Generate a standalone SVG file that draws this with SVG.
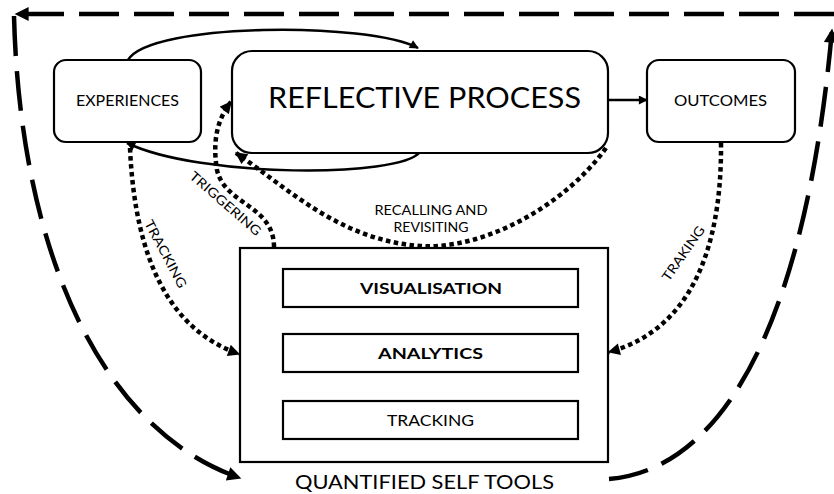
<svg xmlns="http://www.w3.org/2000/svg" width="834" height="494" viewBox="0 0 834 494">
<style>
  text { font-family: Lato, "Open Sans", "Liberation Sans", sans-serif; fill: #000; }
  .box { fill: #fff; stroke: #000; stroke-width: 2.2; }
  .solid { fill: none; stroke: #000; stroke-width: 2.5; }
  .dot { fill: none; stroke: #000; stroke-width: 4.5; stroke-dasharray: 4.5 3.5; }
  .dash { fill: none; stroke: #000; stroke-width: 4.5; stroke-dasharray: 40 15; }
  .lbl { font-size: 13px; }
</style>
<defs>
  <marker id="ahS" viewBox="0 0 10 10" refX="9" refY="5" markerWidth="10" markerHeight="9" markerUnits="userSpaceOnUse" orient="auto">
    <path d="M0,0 L10,5 L0,10 z" fill="#000"/>
  </marker>
  <marker id="ahD" viewBox="0 0 10 10" refX="9" refY="5" markerWidth="13" markerHeight="12" markerUnits="userSpaceOnUse" orient="auto">
    <path d="M0,0 L10,5 L0,10 z" fill="#000"/>
  </marker>
  <marker id="ahL" viewBox="0 0 10 10" refX="9" refY="5" markerWidth="17" markerHeight="14" markerUnits="userSpaceOnUse" orient="auto">
    <path d="M0,0 L10,5 L0,10 z" fill="#000"/>
  </marker>
</defs>

<g id="connectors">
  <!-- outer dashed loop -->
  <path class="dash" d="M609,479 C720,470 805,330 832,30" marker-end="url(#ahL)"/>
  <path class="dash" d="M834,14 L16,14" marker-end="url(#ahL)"/>
  <path class="dash" d="M14,16 C20,250 100,430 240,478" marker-end="url(#ahL)"/>

  <!-- solid loops between experiences and reflective process -->
  <path class="solid" d="M128,60 C150,22 370,22 418,48" marker-end="url(#ahS)"/>
  <path class="solid" d="M420,152 C400,178 200,178 127,143" marker-end="url(#ahS)"/>
  <line class="solid" x1="608" y1="100" x2="647" y2="100" stroke-width="2" marker-end="url(#ahS)"/>

  <!-- dotted arrows -->
  <path class="dot" d="M130,148 C135,260 170,330 239,354" marker-end="url(#ahD)"/>
  <path class="dot" d="M274,247 C274,205 225,205 217,170 C212,140 218,118 231,102" marker-end="url(#ahD)"/>
  <path class="dot" d="M606,148 C565,205 485,250 420,246 C340,240 290,190 236,153" marker-end="url(#ahD)"/>
  <path class="dot" d="M721,143 C722,250 690,330 609,352" marker-end="url(#ahD)"/>

  <!-- internal QS tool arrows -->
  <line x1="430" y1="334" x2="430" y2="308" stroke="#000" stroke-width="4" marker-end="url(#ahD)"/>
  <line x1="430" y1="401" x2="430" y2="373" stroke="#000" stroke-width="4" marker-end="url(#ahD)"/>
  <path d="M283,422 C261,390 261,320 283,289" fill="none" stroke="#000" stroke-width="3" marker-end="url(#ahD)"/>
</g>

<g id="experiences">
  <rect class="box" x="54" y="60" width="147" height="82" rx="12"/>
  <text x="127.5" y="106" font-size="15" text-anchor="middle" textLength="103" lengthAdjust="spacingAndGlyphs">EXPERIENCES</text>
</g>

<g id="reflective-process">
  <rect class="box" x="232" y="51" width="376" height="102" rx="20"/>
  <text x="424.5" y="108" font-size="28" text-anchor="middle" textLength="313" lengthAdjust="spacingAndGlyphs">REFLECTIVE PROCESS</text>
</g>

<g id="outcomes">
  <rect class="box" x="647" y="60" width="148" height="82" rx="12"/>
  <text x="720.5" y="106" font-size="15" text-anchor="middle" textLength="93" lengthAdjust="spacingAndGlyphs">OUTCOMES</text>
</g>

<g id="quantified-self-tools">
  <rect class="box" x="240" y="248" width="368" height="214" rx="0"/>
  <text x="424.5" y="489" font-size="20" text-anchor="middle" textLength="259" lengthAdjust="spacingAndGlyphs">QUANTIFIED SELF TOOLS</text>
</g>

<g id="visualisation">
  <rect class="box" x="283" y="269" width="295" height="38"/>
  <text x="431" y="294" font-size="16" font-weight="bold" text-anchor="middle" textLength="142" lengthAdjust="spacingAndGlyphs">VISUALISATION</text>
</g>

<g id="analytics">
  <rect class="box" x="283" y="334" width="295" height="38"/>
  <text x="430.5" y="359" font-size="16" font-weight="bold" text-anchor="middle" textLength="105" lengthAdjust="spacingAndGlyphs">ANALYTICS</text>
</g>

<g id="tracking">
  <rect class="box" x="283" y="401" width="295" height="38"/>
  <text x="430.5" y="426" font-size="16" text-anchor="middle" textLength="87" lengthAdjust="spacingAndGlyphs">TRACKING</text>
</g>

<g id="labels">
  <text class="lbl" transform="translate(161.5,256) rotate(62)" text-anchor="middle" textLength="75" lengthAdjust="spacingAndGlyphs">TRACKING</text>
  <text class="lbl" transform="translate(222.5,207) rotate(41)" text-anchor="middle" textLength="90" lengthAdjust="spacingAndGlyphs">TRIGGERING</text>
  <text class="lbl" x="431" y="215" text-anchor="middle" textLength="113" lengthAdjust="spacingAndGlyphs">RECALLING AND</text>
  <text class="lbl" x="431" y="232" text-anchor="middle" textLength="75" lengthAdjust="spacingAndGlyphs">REVISITING</text>
  <text class="lbl" transform="translate(687,256) rotate(-55)" text-anchor="middle" textLength="64" lengthAdjust="spacingAndGlyphs">TRAKING</text>
</g>
</svg>
